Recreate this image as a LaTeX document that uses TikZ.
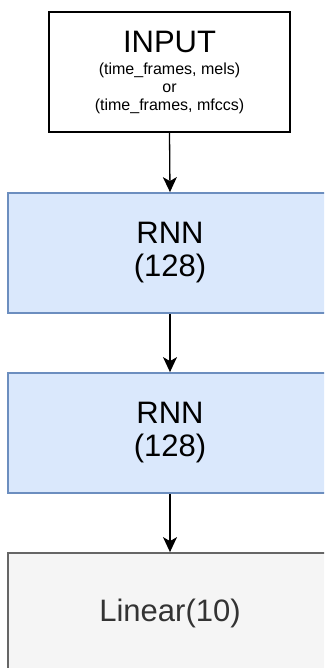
\documentclass[tikz,border=0pt]{standalone}
\usepackage{fontspec}
\setmainfont{Liberation Sans}
\usetikzlibrary{arrows.meta}
\definecolor{rnnfill}{HTML}{DAE8FC}
\definecolor{rnnline}{HTML}{6C8EBF}
\definecolor{linfill}{HTML}{F5F5F5}
\definecolor{linline}{HTML}{666666}
\definecolor{lintext}{HTML}{333333}
\newcommand{\bigtxt}{\fontsize{31}{31}\selectfont}
\newcommand{\smalltxt}{\fontsize{16}{18}\selectfont}
\tikzset{
  layer/.style={draw, line width=1.8pt, minimum height=120pt, inner sep=0pt, align=center,
    font=\fontsize{31}{33}\selectfont},
  inbox/.style={layer, draw=black, fill=white, minimum width=241pt, font=\smalltxt},
  rnnbox/.style={layer, draw=rnnline, fill=rnnfill, minimum width=324pt},
  linbox/.style={layer, draw=linline, fill=linfill, text=lintext, minimum width=324pt},
  flow/.style={line width=1.3pt, -{Stealth[length=15pt, width=14pt, inset=4pt]}}
}
\begin{document}
\begin{tikzpicture}[x=1pt, y=1pt]
  \useasboundingbox (0,0) rectangle (324,-668);
  \clip (0,0) rectangle (324,-668);
  \fill[white] (0,0) rectangle (324,-668);
  \node[inbox] (input) at (169.5,-72)
    {{\bigtxt INPUT}\\[4pt]
     (time\_frames, mels)\\ or\\ (time\_frames, mfccs)};
  \node[rnnbox] (rnn1) at (170,-253) {RNN\\(128)};
  \node[rnnbox] (rnn2) at (170,-433) {RNN\\(128)};
  \node[linbox] (lin) at (170,-613) {Linear(10)};
  \draw[flow] (input.south) -- (rnn1.north);
  \draw[flow] (rnn1.south) -- (rnn2.north);
  \draw[flow] (rnn2.south) -- (lin.north);
\end{tikzpicture}
\end{document}
